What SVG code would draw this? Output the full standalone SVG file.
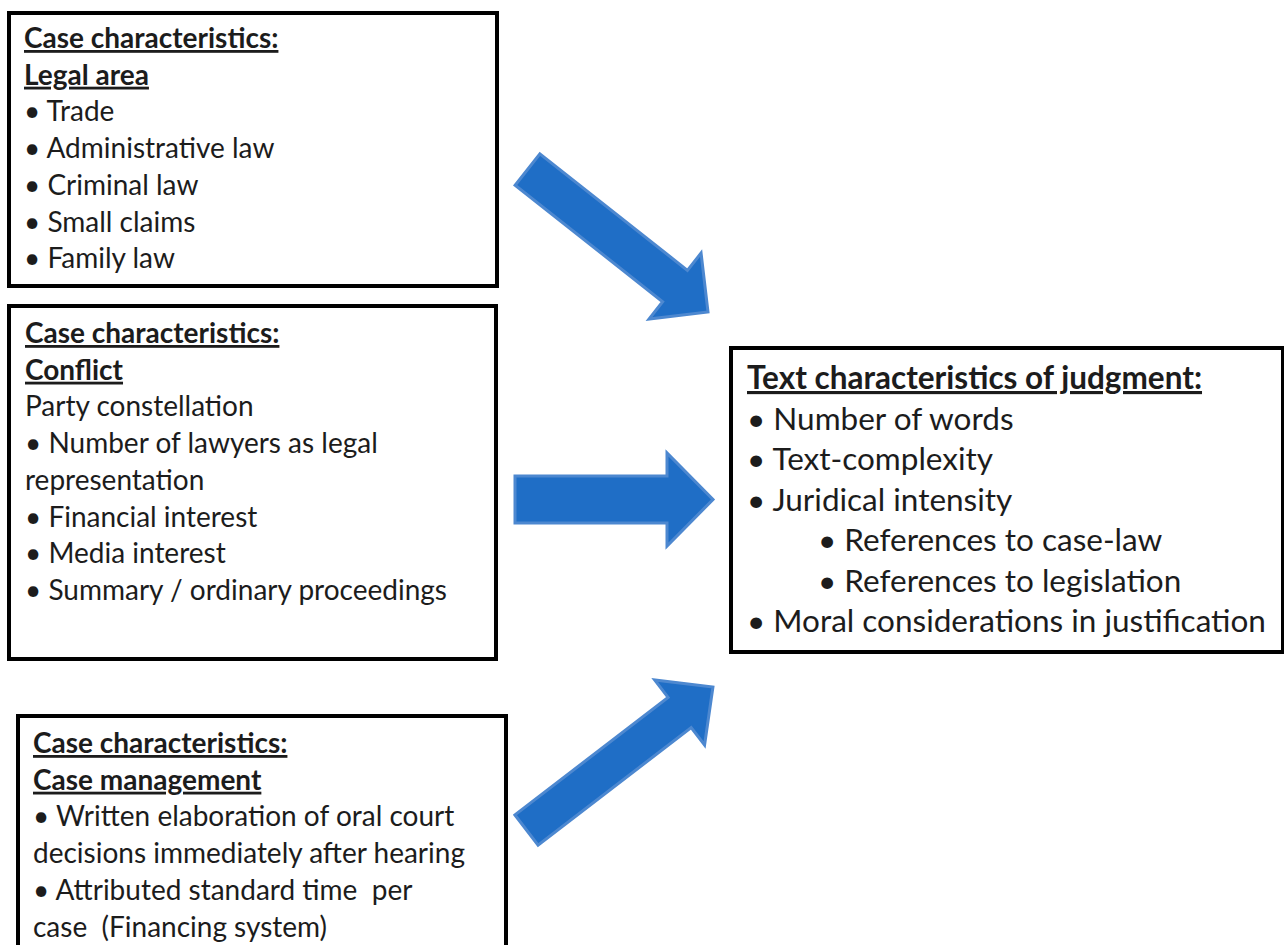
<svg xmlns="http://www.w3.org/2000/svg" width="1284" height="945" viewBox="0 0 1284 945">
<defs>
<style>
.box{fill:#fff;stroke:#000;stroke-width:4}
.t{font-family:Lato,"Liberation Sans",sans-serif;font-size:28px;fill:#1c1c1c}
.r{font-family:Lato,"Liberation Sans",sans-serif;font-size:31.5px;fill:#1c1c1c}
.h{font-weight:bold;text-decoration:underline}
.arrow{fill:#1f6ec6;stroke:#4d88d0;stroke-width:3;stroke-linejoin:miter}
</style>
</defs>
<rect width="1284" height="945" fill="#fff"/>
<g id="connectors">
<path class="arrow" d="M0,-20 L188,-20 L188,-42 L230,0 L188,42 L188,20 L0,20 Z" transform="translate(527.5,169.5) rotate(38.3)"/>
<path class="arrow" d="M515,476 L667,476 L667,453 L713,499.5 L667,546 L667,523 L515,523 Z"/>
<path class="arrow" d="M0,-19 L193,-19 L193,-41 L235,0 L193,41 L193,19 L0,19 Z" transform="translate(526.5,830) rotate(-37.5)"/>
</g>
<g id="legal-area">
<rect class="box" x="9" y="13" width="488" height="273"/>
<text class="t h" x="24" y="48">Case characteristics:</text>
<text class="t h" x="24" y="84.7">Legal area</text>
<text class="t" x="24" y="121.4">• Trade</text>
<text class="t" x="24" y="158">• Administrative law</text>
<text class="t" x="24" y="194.8">• Criminal law</text>
<text class="t" x="24" y="231.5">• Small claims</text>
<text class="t" x="24" y="268.2">• Family law</text>
</g>
<g id="conflict">
<rect class="box" x="9" y="306" width="487" height="353"/>
<text class="t h" x="25" y="343">Case characteristics:</text>
<text class="t h" x="25" y="379.7">Conflict</text>
<text class="t" x="25" y="416.4">Party constellation</text>
<text class="t" x="25" y="453">• Number of lawyers as legal</text>
<text class="t" x="25" y="489.8">representation</text>
<text class="t" x="25" y="526.5">• Financial interest</text>
<text class="t" x="25" y="563.2">• Media interest</text>
<text class="t" x="25" y="600">• Summary / ordinary proceedings</text>
</g>
<g id="case-management">
<rect class="box" x="18" y="716" width="488" height="240"/>
<text class="t h" x="33" y="753">Case characteristics:</text>
<text class="t h" x="33" y="789.7">Case management</text>
<text class="t" x="33" y="826.4">• Written elaboration of oral court</text>
<text class="t" x="33" y="863">decisions immediately after hearing</text>
<text class="t" x="33" y="899.8" xml:space="preserve">• Attributed standard time  per</text>
<text class="t" x="33" y="936.5" xml:space="preserve">case  (Financing system)</text>
</g>
<g id="text-characteristics">
<rect class="box" x="731" y="348" width="552" height="304"/>
<text class="r h" x="747" y="389">Text characteristics of judgment:</text>
<text class="r" x="747" y="429.5">• Number of words</text>
<text class="r" x="747" y="470">• Text-complexity</text>
<text class="r" x="747" y="510.5">• Juridical intensity</text>
<text class="r" x="818" y="551">• References to case-law</text>
<text class="r" x="818" y="591.5">• References to legislation</text>
<text class="r" x="747" y="632">• Moral considerations in justification</text>
</g>
</svg>
